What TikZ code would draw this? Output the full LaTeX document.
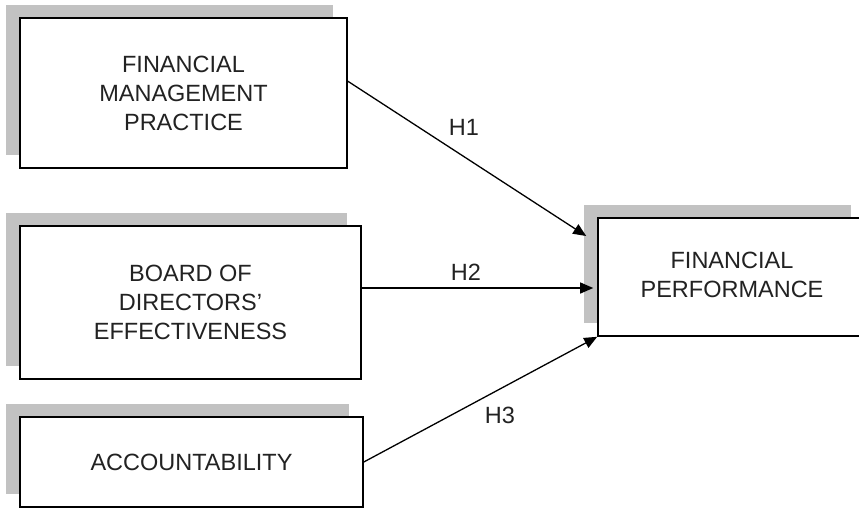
\documentclass[tikz,border=0pt]{standalone}
\usepackage{fontspec}
\setmainfont{Liberation Sans}
\usetikzlibrary{shadows,arrows.meta,calc}
\definecolor{shadowgray}{HTML}{C2C2C2}
\definecolor{ink}{HTML}{222222}
\begin{document}
\begin{tikzpicture}[x=1pt,y=-1pt,
  boxbase/.style={draw=black, line width=1.6pt, fill=white, rectangle, inner sep=0pt,
    align=center, text=ink, font=\fontsize{23.5}{29}\selectfont},
  box/.style={boxbase,
    general shadow={fill=shadowgray, shadow xshift=-14pt, shadow yshift=13.5pt}},
  conn/.style={line width=1.3pt, -{Triangle[length=13pt,width=11pt]}},
  hlab/.style={text=ink, font=\fontsize{23.5}{29}\selectfont, inner sep=0pt}]
\useasboundingbox (0,0) rectangle (859,507);
\node[box, minimum width=327pt, minimum height=150pt] (b1) at (183.5,93)
  {FINANCIAL\\MANAGEMENT\\PRACTICE};
\node[box, minimum width=341pt, minimum height=153pt] (b2) at (190.5,302.5)
  {BOARD OF\\DIRECTORS’\\EFFECTIVENESS};
\node[box, minimum width=343pt, minimum height=90pt] (b3) at (191.5,462)
  {ACCOUNTABILITY};
\fill[shadowgray] (584,204.5) rectangle (851,322.5);
\node[boxbase, minimum width=281pt, minimum height=118pt] (b4) at (738.5,277)
  {\begin{tabular}{@{}c@{\hspace{13pt}}}FINANCIAL\\PERFORMANCE\end{tabular}};
\coordinate (s1) at ($(b1.north east)+(0,64)$);
\coordinate (e1) at ($(b4.west)+(-11,-41)$);
\coordinate (s2) at ($(b2.east)+(0,-14.5)$);
\coordinate (e2) at ($(b4.west)+(-4,11)$);
\draw[conn] (s1) -- (e1);
\draw[conn] (s2) -- (e2);
\draw[conn] (b3.east) -- (b4.south west);
\node[hlab] (h1) at (464,127) {H1};
\node[hlab] (h2) at (466,272) {H2};
\node[hlab] (h3) at (500,415) {H3};
\end{tikzpicture}
\end{document}
